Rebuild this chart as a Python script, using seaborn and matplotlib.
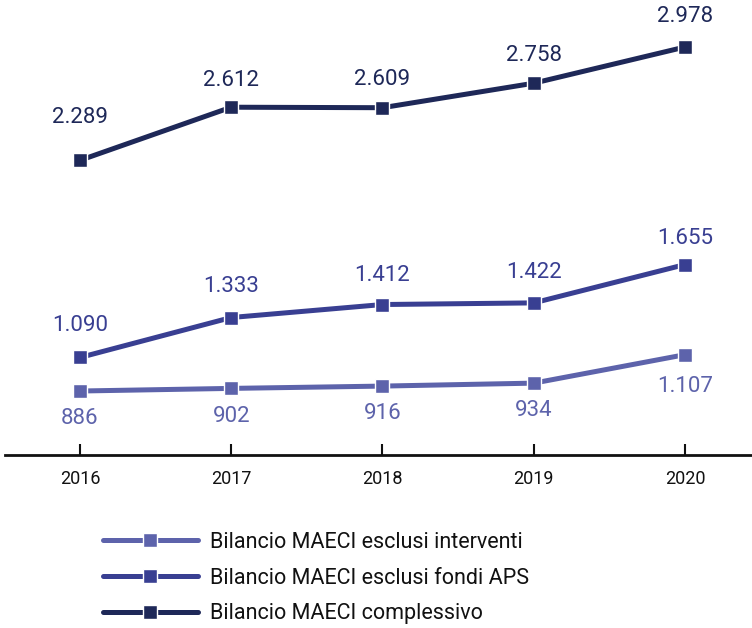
import pandas as pd
import matplotlib.pyplot as plt
import seaborn as sns

# Data (values in millions, Italian number format)
years = [2016, 2017, 2018, 2019, 2020]
escl_interventi = [886, 902, 916, 934, 1107]
escl_fondi_aps = [1090, 1333, 1412, 1422, 1655]
complessivo = [2289, 2612, 2609, 2758, 2978]
series_names = [
    'Bilancio MAECI esclusi interventi',
    'Bilancio MAECI esclusi fondi APS',
    'Bilancio MAECI complessivo',
]

colors = ['#5d63ab', '#393f92', '#1e2858']

df = pd.DataFrame({
    'anno': years * 3,
    'valore': escl_interventi + escl_fondi_aps + complessivo,
    'serie': [series_names[0]] * 5 + [series_names[1]] * 5 + [series_names[2]] * 5,
})

sns.set_style('white')
plt.rcParams['font.family'] = ['Roboto', 'DejaVu Sans']

fig = plt.figure(figsize=(7.52, 6.28), dpi=100)
ax = fig.add_axes([0.0066, 0.2755, 0.9934, 0.7245])

sns.lineplot(data=df, x='anno', y='valore', hue='serie', palette=colors,
             hue_order=series_names, marker='s', markersize=10,
             markeredgecolor='white', markeredgewidth=1, linewidth=3.6,
             ax=ax, legend=True)

def fmt(v):
    return f'{v:,}'.replace(',', '.')

# label offsets in points (above positive, below negative)
offsets = {
    series_names[0]: [-20, -20, -20, -20, -23],
    series_names[1]: [23, 22, 21, 22, 19],
    series_names[2]: [31, 19, 20, 20, 22],
}
for name, col in zip(series_names, colors):
    vals = df[df['serie'] == name]['valore'].tolist()
    for x, v, off in zip(years, vals, offsets[name]):
        ax.annotate(fmt(v), (x, v), xytext=(0, off), textcoords='offset points',
                    ha='center', va='center', fontsize=16, color=col)

ax.set_xlim(2015.504, 2020.443)
ax.set_ylim(497, 3264)
ax.set_xticks(years)
ax.set_xticklabels([str(y) for y in years], fontsize=13, color='#111111',
                   family=['Liberation Sans Narrow', 'Roboto'])
ax.set_yticks([])
ax.set_xlabel('')
ax.set_ylabel('')
for s in ['top', 'right', 'left']:
    ax.spines[s].set_visible(False)
ax.spines['bottom'].set_color('#111111')
ax.spines['bottom'].set_linewidth(2)
ax.tick_params(axis='x', bottom=True, direction='in', length=8, width=1.5,
               color='#111111', pad=11)

handles, labels = ax.get_legend_handles_labels()
ax.get_legend().remove()
fig.legend(handles, labels, loc='upper left', bbox_to_anchor=(0.137, 0.153),
           frameon=False, fontsize=15.5, borderpad=0, borderaxespad=0,
           handlelength=4.4, handletextpad=0.55, labelspacing=0.68,
           labelcolor='#111111')

fig.savefig('out.png', dpi=100)
plt.close(fig)
